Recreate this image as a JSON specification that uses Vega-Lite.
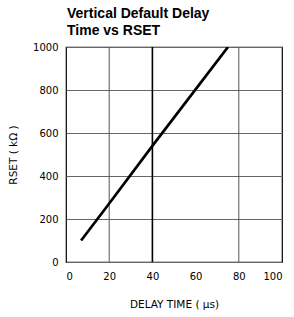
{
  "$schema": "https://vega.github.io/schema/vega-lite/v6.json",
  "width": 216,
  "height": 215,
  "padding": {"left": 8, "top": 7, "right": 8, "bottom": 5},
  "background": "white",
  "title": {
    "text": ["Vertical Default Delay", "Time vs RSET"],
    "anchor": "start",
    "frame": "group",
    "font": "Liberation Sans",
    "fontSize": 14,
    "fontWeight": "bold",
    "color": "black",
    "lineHeight": 17,
    "offset": 4,
    "dx": 1
  },
  "config": {
    "view": {"stroke": "black", "strokeWidth": 1.2},
    "axis": {
      "labelFont": "DejaVu Sans",
      "labelFontSize": 10,
      "labelColor": "black",
      "titleFont": "DejaVu Sans",
      "titleFontSize": 10.5,
      "titleFontWeight": "normal",
      "titleColor": "black",
      "ticks": false,
      "domain": false
    }
  },
  "datasets": {
    "curve": [
      {"t": 7, "r": 100},
      {"t": 20, "r": 272},
      {"t": 40, "r": 540},
      {"t": 60, "r": 803},
      {"t": 75, "r": 1000}
    ],
    "vgrid": [
      {"t": 20, "major": "no"},
      {"t": 40, "major": "yes"},
      {"t": 80, "major": "no"}
    ]
  },
  "layer": [
    {
      "data": {"name": "vgrid"},
      "mark": {"type": "rule"},
      "encoding": {
        "x": {"field": "t", "type": "quantitative", "scale": {"domain": [0, 100], "nice": false}},
        "color": {"field": "major", "type": "nominal", "scale": {"domain": ["no", "yes"], "range": ["#555", "#000"]}, "legend": null},
        "strokeWidth": {"field": "major", "type": "nominal", "scale": {"domain": ["no", "yes"], "range": [1, 1.6]}, "legend": null}
      }
    },
    {
      "data": {"name": "curve"},
      "mark": {"type": "line", "color": "black", "strokeWidth": 2.7, "clip": true},
      "encoding": {
        "x": {
          "field": "t",
          "type": "quantitative",
          "scale": {"domain": [0, 100], "nice": false},
          "axis": {
            "values": [0, 20, 40, 60, 80, 100],
            "title": "DELAY TIME ( µs)",
            "grid": false,
            "labelPadding": 9,
            "titlePadding": 18
          }
        },
        "y": {
          "field": "r",
          "type": "quantitative",
          "scale": {"domain": [0, 1000], "nice": false},
          "axis": {
            "values": [0, 200, 400, 600, 800, 1000],
            "format": "d",
            "title": "RSET ( kΩ )",
            "labelPadding": 8,
            "titlePadding": 14,
            "gridColor": "#666",
            "gridOpacity": 1
          }
        }
      }
    }
  ]
}
